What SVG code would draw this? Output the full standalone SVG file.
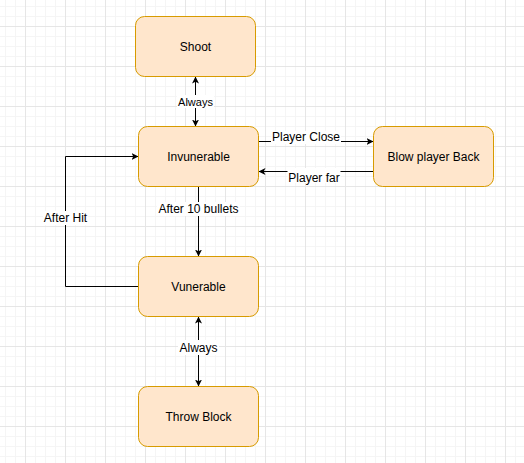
<svg xmlns="http://www.w3.org/2000/svg" width="524" height="463" viewBox="0 0 524 463">
  <defs>
    <pattern id="grid" x="25" y="26" width="40" height="40" patternUnits="userSpaceOnUse">
      <rect x="0" y="0" width="40" height="40" fill="#ffffff"/>
      <g fill="#f5f5f5">
        <rect x="10" y="0" width="1" height="40"/>
        <rect x="20" y="0" width="1" height="40"/>
        <rect x="30" y="0" width="1" height="40"/>
        <rect x="0" y="10" width="40" height="1"/>
        <rect x="0" y="20" width="40" height="1"/>
        <rect x="0" y="30" width="40" height="1"/>
      </g>
      <g fill="#e6e6e6">
        <rect x="0" y="0" width="1" height="40"/>
        <rect x="0" y="0" width="40" height="1"/>
      </g>
    </pattern>
    <marker id="arrow" viewBox="0 0 7 7" refX="7" refY="3.5" markerWidth="7" markerHeight="7" markerUnits="userSpaceOnUse" orient="auto-start-reverse">
      <path d="M0,0 L7,3.5 L0,7 L1.75,3.5 Z" fill="#000"/>
    </marker>
    <style>
      .node rect { fill: #ffe6cc; stroke: #d79b00; stroke-width: 1; }
      .node text, .label text { font-family: "Liberation Sans", Arial, sans-serif; font-size: 12px; fill: #000; text-anchor: middle; }
      .edge { fill: none; stroke: #000; stroke-width: 1; }
      .label rect { fill: #ffffff; }
    </style>
  </defs>

  <rect x="0" y="0" width="524" height="463" fill="url(#grid)"/>

  <g id="connectors">
    <path class="edge" d="M195.5,126.5 L195.5,76.5" marker-start="url(#arrow)" marker-end="url(#arrow)"/>
    <path class="edge" d="M258.5,141.5 L373.5,141.5" marker-end="url(#arrow)"/>
    <path class="edge" d="M373.5,171.5 L258.5,171.5" marker-end="url(#arrow)"/>
    <path class="edge" d="M198.5,186.5 L198.5,256.5" marker-end="url(#arrow)"/>
    <path class="edge" d="M138.5,286.5 L65.5,286.5 L65.5,156.5 L138.5,156.5" marker-end="url(#arrow)"/>
    <path class="edge" d="M198.5,386.5 L198.5,316.5" marker-start="url(#arrow)" marker-end="url(#arrow)"/>

    <g class="label">
      <rect x="177" y="95" width="37" height="13"/>
      <text x="195.5" y="105.5" style="font-size:11px">Always</text>
    </g>
    <g class="label">
      <rect x="271" y="131" width="70" height="13"/>
      <text x="306" y="141">Player Close</text>
    </g>
    <g class="label">
      <rect x="287.5" y="168" width="53" height="15"/>
      <text x="314" y="182">Player far</text>
    </g>
    <g class="label">
      <rect x="157" y="202" width="83" height="14"/>
      <text x="198.5" y="213">After 10 bullets</text>
    </g>
    <g class="label">
      <rect x="43" y="211" width="45" height="14"/>
      <text x="65.5" y="222">After Hit</text>
    </g>
    <g class="label">
      <rect x="178" y="340" width="41" height="15"/>
      <text x="198.5" y="351.5">Always</text>
    </g>
  </g>

  <g id="node-shoot" class="node">
    <rect x="135.5" y="16.5" width="120" height="60" rx="9" ry="9"/>
    <text x="195.5" y="50.8">Shoot</text>
  </g>
  <g id="node-invunerable" class="node">
    <rect x="138.5" y="126.5" width="120" height="60" rx="9" ry="9"/>
    <text x="198.5" y="160.8">Invunerable</text>
  </g>
  <g id="node-blow" class="node">
    <rect x="373.5" y="126.5" width="120" height="60" rx="9" ry="9"/>
    <text x="433.5" y="160.8">Blow player Back</text>
  </g>
  <g id="node-vunerable" class="node">
    <rect x="138.5" y="256.5" width="120" height="60" rx="9" ry="9"/>
    <text x="198.5" y="290.8">Vunerable</text>
  </g>
  <g id="node-throw" class="node">
    <rect x="138.5" y="386.5" width="120" height="60" rx="9" ry="9"/>
    <text x="198.5" y="420.8">Throw Block</text>
  </g>
</svg>
